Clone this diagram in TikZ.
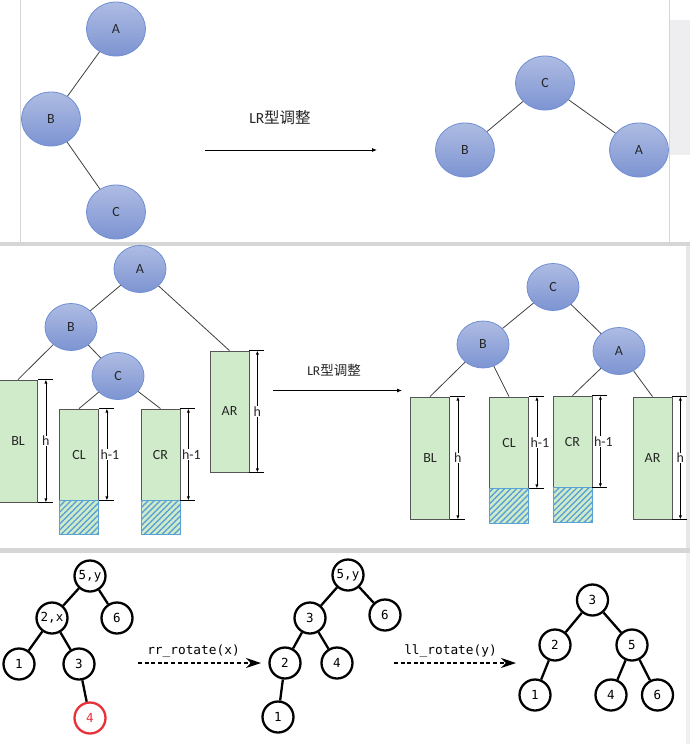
\documentclass[tikz,border=0pt]{standalone}
\usepackage{fontspec}
\setmainfont{Carlito}
\newfontfamily\cjk{Noto Sans CJK SC}
\newfontfamily\monof{DejaVu Sans Mono}
\usetikzlibrary{shapes.geometric,arrows.meta,patterns.meta}
\definecolor{nodeTop}{HTML}{AEBCE3}
\definecolor{nodeBot}{HTML}{7D94D2}
\definecolor{nodeLine}{HTML}{6F8ED4}
\definecolor{edgeC}{HTML}{404040}
\definecolor{txt}{HTML}{262626}
\definecolor{greenF}{HTML}{CFEBC9}
\definecolor{greenL}{HTML}{555555}
\definecolor{hatchL}{HTML}{5AA2D6}
\definecolor{redC}{HTML}{E8313B}
\definecolor{shadow}{HTML}{D6D6D6}
\definecolor{paneGray}{HTML}{EEEEF1}
\tikzset{
  bnode/.style={ellipse, top color=nodeTop, bottom color=nodeBot, draw=nodeLine,
    line width=0.8pt, inner sep=0pt, text=txt, font=\fontsize{14}{14}\selectfont},
  bigov/.style={minimum width=59pt, minimum height=54pt},
  midov/.style={minimum width=52pt, minimum height=47pt},
  link/.style={draw=edgeC, line width=0.8pt},
  subtree/.style={rectangle, fill=greenF, draw=greenL, line width=0.8pt,
    minimum width=39pt, inner sep=0pt, text=txt, font=\fontsize{14}{14}\selectfont},
  hatchbox/.style={rectangle, draw=hatchL, line width=0.8pt, fill=greenF,
    postaction={pattern={Lines[angle=45,distance=4.2pt,line width=1.4pt]}, pattern color=hatchL},
    minimum width=39pt, inner sep=0pt},
  tickline/.style={draw=black, line width=0.8pt},
  dimarr/.style={draw=black, line width=0.8pt, {Latex[length=4pt,width=3.2pt]}-{Latex[length=4pt,width=3.2pt]}},
  dimlab/.style={fill=white, inner sep=0.6pt, text=txt, font=\fontsize{14}{14}\selectfont},
  thinarrow/.style={draw=black, line width=0.8pt, -{Latex[length=5pt,width=4pt]}},
  cnlabel/.style={text=txt, inner sep=0pt},
  tnode/.style={circle, draw=black, line width=2.3pt, minimum size=31pt, inner sep=0pt,
    font=\monof\fontsize{12.5}{12.5}\selectfont},
  tlink/.style={draw=black, line width=2.3pt},
  rotarrow/.style={draw=black, line width=1.6pt, dash pattern=on 4pt off 2.6pt,
    -{Stealth[length=15pt,width=10pt]}},
  rotlab/.style={inner sep=0pt, font=\monof\fontsize{12.8}{12.8}\selectfont}
}
\newcommand{\hdim}[3][0pt]{%
  \draw[tickline] (#2.north east) -- ([xshift=15pt]#2.north east);
  \draw[tickline] (#2.south east) -- ([xshift=15pt]#2.south east);
  \draw[dimarr] ([xshift=8pt]#2.north east) -- ([xshift=8pt]#2.south east)
    node[dimlab, midway, xshift=#1] {#3};
}
\begin{document}
\begin{tikzpicture}[x=1pt,y=-1pt]
\useasboundingbox (0,0) rectangle (690,744);
\fill[white] (0,0) rectangle (690,744);
% ---------- backgrounds / frames ----------
\fill[paneGray] (669,20) rectangle (690,155);
\draw[shadow, line width=1pt] (20,0) -- (20,242);
\draw[shadow, line width=1pt] (669,0) -- (669,242);
\fill[shadow] (0,242) rectangle (690,246);
\fill[shadow!60] (686,246) rectangle (690,548);
\fill[shadow] (0,548) rectangle (690,553);
\fill[shadow!40] (686,553) rectangle (690,744);

% ---------- Panel 1 ----------
\node[bnode, bigov] (a1) at (116,29) {A};
\node[bnode, bigov] (b1) at (51,119) {B};
\node[bnode, bigov] (c1) at (116,212) {C};
\draw[link] (a1) -- (b1);
\draw[link] (b1) -- (c1);
\coordinate (ar1s) at (205,150);
\coordinate (ar1e) at (377,150);
\draw[thinarrow] (ar1s) -- (ar1e);
\node[cnlabel, font=\fontsize{15.5}{15.5}\selectfont] (lab1) at (280,118) {LR{\cjk 型调整}};
\node[bnode, bigov] (c1r) at (545,83) {C};
\node[bnode, bigov] (b1r) at (465,150) {B};
\node[bnode, bigov] (a1r) at (639,150) {A};
\draw[link] (c1r) -- (b1r);
\draw[link] (c1r) -- (a1r);

% ---------- Panel 2 left ----------
\node[bnode, midov] (a2) at (140,269) {A};
\node[bnode, midov] (b2) at (71,327) {B};
\node[bnode, midov] (c2) at (118,376) {C};
\node[subtree, minimum height=122pt] (bl2) at (18,441) {BL};
\node[subtree, minimum height=91pt] (cl2) at (79,454.5) {CL};
\node[hatchbox, minimum height=34pt, anchor=north] (clh2) at (cl2.south) {};
\node[subtree, minimum height=91pt] (cr2) at (160.5,454.5) {CR};
\node[hatchbox, minimum height=34pt, anchor=north] (crh2) at (cr2.south) {};
\node[subtree, minimum height=121pt] (ar2) at (229.5,411.5) {AR};
\draw[link] (a2) -- (b2);
\draw[link] (a2) -- (ar2.north);
\draw[link] (b2) -- (bl2.north);
\draw[link] (b2) -- (c2);
\draw[link] (c2) -- (cl2.north);
\draw[link] (c2) -- (cr2.north);
\hdim{bl2}{h}
\hdim[3pt]{cl2}{h-1}
\hdim[3pt]{cr2}{h-1}
\hdim{ar2}{h}
\coordinate (ar2s) at (273,390.5);
\coordinate (ar2e) at (402,390.5);
\draw[thinarrow] (ar2s) -- (ar2e);
\node[cnlabel, font=\fontsize{13.5}{13.5}\selectfont] (lab2) at (334,370) {LR{\cjk 型调整}};

% ---------- Panel 2 right ----------
\node[bnode, midov] (c2r) at (553,287) {C};
\node[bnode, midov] (b2r) at (483,344.5) {B};
\node[bnode, midov] (a2r) at (619,351) {A};
\node[subtree, minimum height=122pt] (bl2r) at (430,458) {BL};
\node[subtree, minimum height=91pt] (cl2r) at (509,442.5) {CL};
\node[hatchbox, minimum height=35pt, anchor=north] (clh2r) at (cl2r.south) {};
\node[subtree, minimum height=91pt] (cr2r) at (572.5,441.5) {CR};
\node[hatchbox, minimum height=35pt, anchor=north] (crh2r) at (cr2r.south) {};
\node[subtree, minimum height=122pt] (ar2r) at (652.5,458) {AR};
\draw[link] (c2r) -- (b2r);
\draw[link] (c2r) -- (a2r);
\draw[link] (b2r) -- (bl2r.north);
\draw[link] (b2r) -- (cl2r.north);
\draw[link] (a2r) -- (cr2r.north);
\draw[link] (a2r) -- (ar2r.north);
\hdim{bl2r}{h}
\hdim[3pt]{cl2r}{h-1}
\hdim[3pt]{cr2r}{h-1}
\hdim{ar2r}{h}

% ---------- Panel 3 ----------
% tree 1
\node[tnode] (t1n5) at (90,576) {5,y};
\node[tnode] (t1n2) at (52,618) {2,x};
\node[tnode] (t1n6) at (117,618) {6};
\node[tnode] (t1n1) at (19,664) {1};
\node[tnode] (t1n3) at (79,664) {3};
\node[tnode, draw=redC, text=redC] (t1n4) at (90,718) {4};
\draw[tlink] (t1n5) -- (t1n2);
\draw[tlink] (t1n5) -- (t1n6);
\draw[tlink] (t1n2) -- (t1n1);
\draw[tlink] (t1n2) -- (t1n3);
\draw[tlink] (t1n3) -- (t1n4);
\coordinate (r1s) at (138,663);
\coordinate (r1e) at (261,663);
\draw[rotarrow] (r1s) -- (r1e);
\node[rotlab] (r1lab) at (193.5,651) {rr\_rotate(x)};
% tree 2
\node[tnode] (t2n5) at (348,575) {5,y};
\node[tnode] (t2n3) at (310,618) {3};
\node[tnode] (t2n6) at (385,615) {6};
\node[tnode] (t2n2) at (285,663) {2};
\node[tnode] (t2n4) at (337,663) {4};
\node[tnode] (t2n1) at (278,717) {1};
\draw[tlink] (t2n5) -- (t2n3);
\draw[tlink] (t2n5) -- (t2n6);
\draw[tlink] (t2n3) -- (t2n2);
\draw[tlink] (t2n3) -- (t2n4);
\draw[tlink] (t2n2) -- (t2n1);
\coordinate (r2s) at (394,663);
\coordinate (r2e) at (516,663);
\draw[rotarrow] (r2s) -- (r2e);
\node[rotlab] (r2lab) at (450.5,651) {ll\_rotate(y)};
% tree 3
\node[tnode] (t3n3) at (592.5,600) {3};
\node[tnode] (t3n2) at (555,645) {2};
\node[tnode] (t3n5) at (632,645) {5};
\node[tnode] (t3n1) at (535,695) {1};
\node[tnode] (t3n4) at (611,695) {4};
\node[tnode] (t3n6) at (657.5,695) {6};
\draw[tlink] (t3n3) -- (t3n2);
\draw[tlink] (t3n3) -- (t3n5);
\draw[tlink] (t3n2) -- (t3n1);
\draw[tlink] (t3n5) -- (t3n4);
\draw[tlink] (t3n5) -- (t3n6);
\end{tikzpicture}
\end{document}
